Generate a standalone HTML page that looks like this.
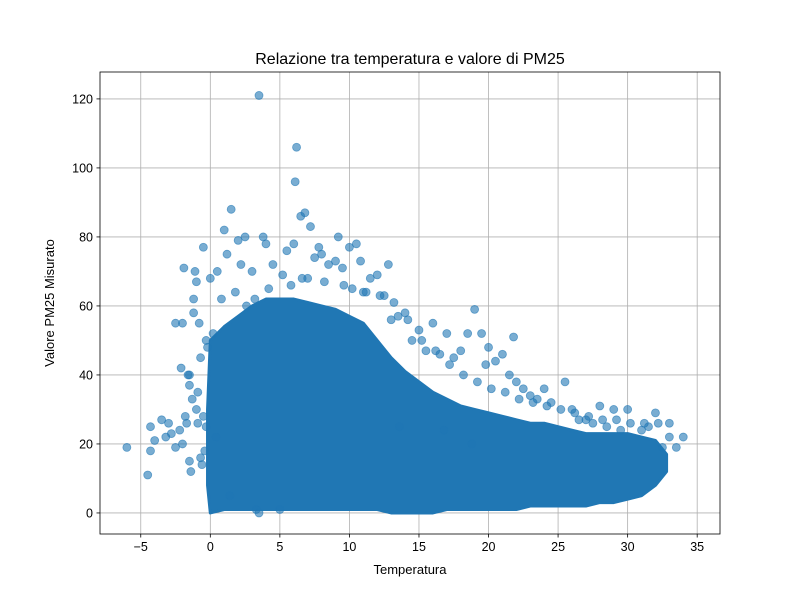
<!DOCTYPE html>
<html><head><meta charset="utf-8">
<style>
body{margin:0;background:#fff;}
svg{display:block;font-family:"Liberation Sans","DejaVu Sans",sans-serif;}
</style></head>
<body>
<svg id="chart" width="800" height="600"></svg>
<script>
// --- data ---
const xTicks = [-5,0,5,10,15,20,25,30,35];
const yTicks = [0,20,40,60,80,100,120];
// dense core envelope (temperature -> PM25 upper/lower)
const coreTemps = [-0.2,0,1,2,3,4,5,6,7,8,9,10,11,12,13,14,15,16,17,18,19,20,21,22,23,24,25,26,27,28,29,30,31,32,32.8];
const coreUpper = [30,50,54,57,60,62,62,62,61,60,59,57,55,50,45,41,38,35,33,31,30,29,28,27,26,26,25,24,23,23,23,23,22,21,17];
const coreLower = [8,0,1,1,1,1,1,1,1,1,1,1,1,1,0,0,0,0,1,1,1,1,1,1,2,2,2,2,2,3,3,4,5,8,12];
// sparse points
const ptTemp = [-6,-4.5,-4.3,-4.3,-4,-3.5,-3,-2.5,-2,-1.5,-1.5,-1.2,-1,-0.8,-0.5,0,1,1.5,2.5,3.5,6.2,6.1,6.5,6.8,7.2,6,10,10.5,12.8,12,14,17,18.5,19,19.5,21,25.5,28,29,30,32,33,34,33.5,32.5,-1,-2,-1.5,4,8,9,11,13,15,16,20,22,24,27,3.3,3.5,5,-2.8,-2.2,-1.8,-1.3,-0.7,-0.3,-2.5,-3.2,0.5,1.2,2,3,4.5,5.5,7.5,8.5,9.5,11.5,12.5,13.5,14.5,15.5,16.5,17.5,18,19.8,20.5,21.5,22.5,23,23.5,24.5,26,26.5,27.5,28.5,29.5,31,31.5,-1.7,-0.9,-0.2,0.2,0.8,1.8,2.2,3.8,5.2,6.6,7.8,9.2,10.8,-1.9,-1.1,-1.4,-0.6,-0.4,-0.9,-1.6,-2.1,-0.3,-0.7,-1.2,-0.5,0.4,1.4,2.6,3.2,4.2,5.8,7,8.2,9.6,10.2,11.2,12.2,13.2,14.2,15.2,16.2,17.2,18.2,19.2,20.2,21.2,22.2,23.2,24.2,25.2,26.2,27.2,28.2,29.2,30.2,31.2,32.2,33,13.6,16.8,18.8,21.8];
const ptPM = [19,11,18,25,21,27,26,55,55,40,37,62,67,55,77,68,82,88,80,121,106,96,86,87,83,78,77,78,72,69,58,52,52,59,52,46,38,31,30,30,29,22,22,19,19,30,20,15,78,75,73,64,56,53,55,48,38,36,27,1,0,1,23,24,28,33,45,50,19,22,70,75,79,70,72,76,74,72,71,68,63,57,50,47,46,45,47,43,44,40,36,34,33,32,30,27,26,25,24,24,25,26,26,48,52,62,64,72,80,69,68,77,80,73,71,70,12,14,18,35,40,42,25,16,58,28,22,5,60,62,65,66,68,67,66,65,64,63,61,56,50,47,43,40,38,36,35,33,32,31,30,29,28,27,27,26,26,26,26,25,24,20,51,42,40,34];

// --- axes ---
const L=100,R=720,T=72,B=534;
const xMin=-7.93,xMax=36.64,yMin=-6.1,yMax=127.8;
const sx=v=>L+(v-xMin)/(xMax-xMin)*(R-L);
const sy=v=>B-(v-yMin)/(yMax-yMin)*(B-T);
const NS="http://www.w3.org/2000/svg";
const svg=document.getElementById('chart');
function mk(tag,attrs,parent){const e=document.createElementNS(NS,tag);for(const k in attrs)e.setAttribute(k,attrs[k]);(parent||svg).appendChild(e);return e;}

// grid
const grid=mk('g',{});


xTicks.forEach(v=>{mk('line',{x1:sx(v),x2:sx(v),y1:T,y2:B,stroke:'#b0b0b0','stroke-width':0.8},grid);});
yTicks.forEach(v=>{mk('line',{x1:L,x2:R,y1:sy(v),y2:sy(v),stroke:'#b0b0b0','stroke-width':0.8},grid);});

// core band
let d='';
coreTemps.forEach((t,i)=>{d+=(i?'L':'M')+sx(t)+','+sy(coreUpper[i]);});
for(let i=coreTemps.length-1;i>=0;i--){d+='L'+sx(coreTemps[i])+','+sy(coreLower[i]);}
d+='Z';
const core=mk('path',{d:d,fill:'#2077b4',stroke:'#2077b4','stroke-width':3,'stroke-linejoin':'round'});



// sparse points
const pts=mk('g',{});


ptTemp.forEach((t,i)=>{
  const c=mk('circle',{cx:sx(t),cy:sy(ptPM[i]),r:4,fill:'#1f77b4','fill-opacity':0.6,stroke:'#1f77b4','stroke-opacity':0.6,'stroke-width':0.8},pts);
  
  
});

// frame
const fr=mk('rect',{x:L,y:T,width:R-L,height:B-T,fill:'none',stroke:'#000','stroke-width':0.8});



// ticks
xTicks.forEach(v=>{
  mk('line',{x1:sx(v),x2:sx(v),y1:B,y2:B+3.5,stroke:'#000','stroke-width':0.8});
  const t=mk('text',{x:sx(v),y:B+17,'text-anchor':'middle','font-size':12.5,fill:'#000'});
  t.textContent=v<0?'\u2212'+(-v):v;
  
  
});
yTicks.forEach(v=>{
  mk('line',{x1:L-3.5,x2:L,y1:sy(v),y2:sy(v),stroke:'#000','stroke-width':0.8});
  const t=mk('text',{x:L-7,y:sy(v)+4.5,'text-anchor':'end','font-size':12.5,fill:'#000'});
  t.textContent=v;
  
  
});

const title=mk('text',{x:(L+R)/2,y:64,'text-anchor':'middle','font-size':16,fill:'#000'});
title.textContent='Relazione tra temperatura e valore di PM25';


const xl=mk('text',{x:(L+R)/2,y:574,'text-anchor':'middle','font-size':13,fill:'#000'});
xl.textContent='Temperatura';


const yl=mk('text',{x:0,y:0,'text-anchor':'middle','font-size':13,fill:'#000',transform:'translate(54,303) rotate(-90)'});
yl.textContent='Valore PM25 Misurato';


</script>
</body></html>
